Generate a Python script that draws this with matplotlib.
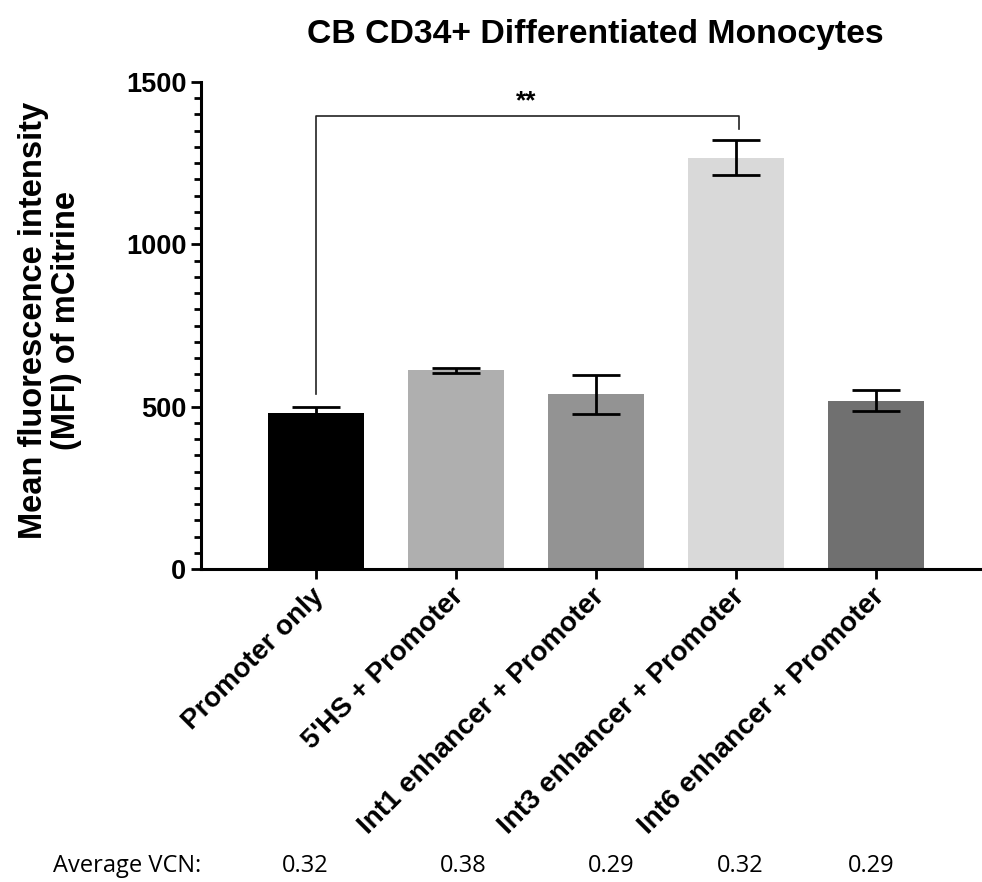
import matplotlib
matplotlib.use("Agg")
import matplotlib.pyplot as plt
from matplotlib.ticker import MultipleLocator
from matplotlib.transforms import ScaledTranslation
import numpy as np

# Data
categories = ["Promoter only", "5'HS + Promoter", "Int1 enhancer + Promoter",
              "Int3 enhancer + Promoter", "Int6 enhancer + Promoter"]
mfi_mean = [482, 612, 538, 1267, 518]
mfi_err = [18, 7, 61, 53, 32]
bar_colors = ["#000000", "#afafaf", "#939393", "#d9d9d9", "#707070"]
vcn_values = ["0.32", "0.38", "0.29", "0.32", "0.29"]
vcn_x_px = [305, 463, 611, 740, 871]
sig_pair = (0, 3)
sig_label = "**"
sig_bracket_y = 1395
sig_leg_bottom = [540, 1354]

plt.rcParams['font.family'] = ['Liberation Sans', 'DejaVu Sans']

W, H = 982, 882
fig = plt.figure(figsize=(W / 100, H / 100), dpi=100)
left, right, bottom, top = 201, 980, 569, 82
ax = fig.add_axes([left / W, 1 - bottom / H, (right - left) / W, (bottom - top) / H])

x = np.arange(len(categories))
ax.bar(x, mfi_mean, width=0.68, color=bar_colors, zorder=2)
ax.errorbar(x, mfi_mean, yerr=mfi_err, fmt='none', ecolor='black',
            elinewidth=2.0, capsize=17, capthick=2.0, zorder=3)

ax.set_xlim(-0.821, 4.743)
ax.set_ylim(0, 1500)
ax.yaxis.set_major_locator(MultipleLocator(500))
ax.yaxis.set_minor_locator(MultipleLocator(50))

for s in ['top', 'right']:
    ax.spines[s].set_visible(False)
for s in ['left', 'bottom']:
    ax.spines[s].set_linewidth(2.2)

ax.tick_params(axis='y', which='major', length=7.5, width=2.0, pad=3,
               labelsize=19.5)
ax.tick_params(axis='y', which='minor', length=5, width=2.0)
ax.tick_params(axis='x', which='major', length=7.5, width=2.0, pad=3,
               labelsize=20)
ax.set_xticks(x)
ax.set_xticklabels(categories, rotation=45, ha='right', rotation_mode='anchor',
                   fontweight='bold')
shift = ScaledTranslation(-5 / 100, 0, fig.dpi_scale_trans)
for lbl in ax.get_xticklabels():
    lbl.set_transform(lbl.get_transform() + shift)
for lbl in ax.get_yticklabels():
    lbl.set_fontweight('bold')

# Significance bracket
x0, x1 = sig_pair
ax.plot([x0, x0, x1 + 0.02, x1 + 0.02],
        [sig_leg_bottom[0], sig_bracket_y, sig_bracket_y, sig_leg_bottom[1]],
        color='#222222', lw=1.2, zorder=4, clip_on=False)
ax.text((x0 + x1) / 2, sig_bracket_y + 10, sig_label, ha='center', va='bottom',
        fontsize=19, fontweight='bold')

# Title and y label
fig.text(595 / W, 1 - 34 / H, "CB CD34+ Differentiated Monocytes",
         ha='center', va='center', fontsize=24.3, fontweight='bold')
fig.text(50 / W, 1 - 320 / H, "Mean fluorescence intensity\n(MFI) of mCitrine",
         ha='center', va='center', rotation=90, fontsize=23.5,
         fontweight='bold', linespacing=1.05)

# Average vector copy number row
fig.text(53 / W, 1 - 866 / H, "Average VCN:", ha='left', va='center',
         fontsize=17, family='Open Sans')
for xv, v in zip(vcn_x_px, vcn_values):
    fig.text(xv / W, 1 - 866 / H, v, ha='center', va='center',
             fontsize=17, family='Open Sans')

fig.savefig("out.png", dpi=100)
